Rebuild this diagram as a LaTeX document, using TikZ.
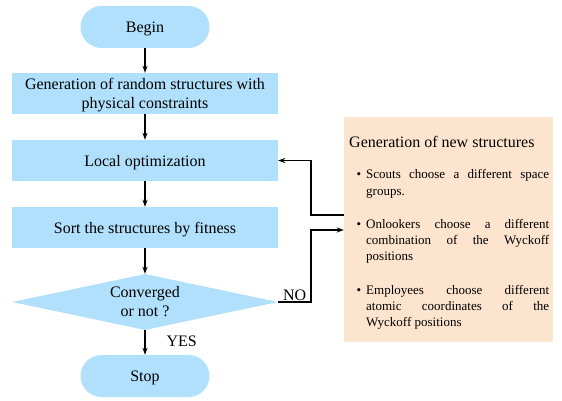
\documentclass[tikz,border=0pt]{standalone}
\usepackage{fontspec}
\setmainfont{Liberation Serif}
\newfontfamily\tms{Liberation Serif}
\usetikzlibrary{shapes.geometric,arrows.meta}
\definecolor{boxblue}{RGB}{176,224,252}
\definecolor{boxorange}{RGB}{253,228,207}
\begin{document}
\begin{tikzpicture}[x=1pt,y=-1pt,
  every node/.style={font=\tms\fontsize{16}{19}\selectfont},
  term/.style={fill=boxblue, rounded corners=21pt, minimum width=129pt, minimum height=42pt, inner sep=0, text depth=0pt},
  proc/.style={fill=boxblue, minimum width=266pt, minimum height=41pt, align=center, inner sep=0, text depth=0pt},
  dec/.style={diamond, fill=boxblue, minimum width=266pt, minimum height=56pt, aspect=4.75, inner sep=0, align=center},
  genbox/.style={fill=boxorange, minimum width=209pt, minimum height=225pt, inner sep=0},
  arr/.style={-{Stealth[length=7pt,width=5pt]}, line width=1.2pt},
  lbl/.style={inner sep=1pt}
]
\useasboundingbox (0,0) rectangle (562,401);

\node[term] (begin) at (145,27) {Begin};
\node[proc] (gen1) at (145,93.5) {Generation of random structures with\\physical constraints};
\node[proc] (opt) at (145,160.5) {Local optimization};
\node[proc] (sort) at (145,227.5) {Sort the structures by fitness};
\node[dec] (conv) at (145,302) {Converged\\or not ?};
\node[term] (stop) at (145,376) {Stop};

\node[genbox] (newgen) at (448.5,229.5) {};
\node[anchor=base west, inner sep=0] (newtext) at (349,147) {%
\begin{minipage}[t]{200pt}
\parindent=0pt\hyphenpenalty=10000
\fontsize{16}{16}\selectfont Generation of new structures\par
\vspace{16pt}
\fontsize{13}{16}\selectfont\leftskip=17pt
\leavevmode\llap{\textbullet\hspace{5pt}}Scouts choose a different space\linebreak groups.\par
\vspace{17.6pt}
\leavevmode\llap{\textbullet\hspace{5pt}}Onlookers choose a different\linebreak combination of the Wyckoff\linebreak positions\par
\vspace{17.6pt}
\leavevmode\llap{\textbullet\hspace{5pt}}Employees choose different\linebreak atomic coordinates of the\linebreak Wyckoff positions\par
\end{minipage}};

\coordinate (bend) at (311,0);
\coordinate (outpt) at (newgen.west |- 0,215);
\coordinate (inpt) at (newgen.west |- 0,230);

\draw[arr] (begin) -- (gen1);
\draw[arr] (gen1) -- (opt);
\draw[arr] (opt) -- (sort);
\draw[arr] (sort) -- (conv);
\draw[arr] (conv) -- (stop) node[lbl, pos=0.45, right=20pt] (yes) {YES};
\draw[arr] (outpt) -- (outpt -| bend) |- (opt.east);
\draw[arr] (conv.east) -- (conv.east -| bend) node[lbl, midway, above] (no) {NO} |- (inpt);
\end{tikzpicture}
\end{document}
